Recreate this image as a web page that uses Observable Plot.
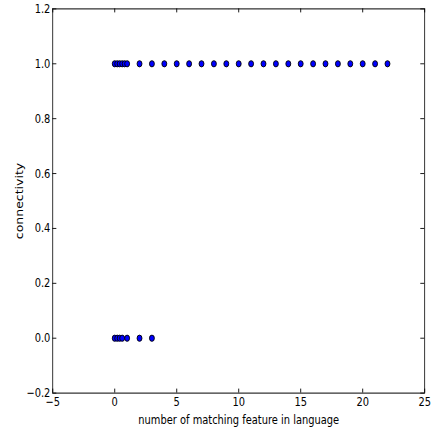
<!DOCTYPE html>
<html><head><meta charset="utf-8">
<script src="https://cdn.jsdelivr.net/npm/d3@7"></script>
<script src="https://cdn.jsdelivr.net/npm/@observablehq/plot@0.6"></script>
<style>body{margin:0;background:#fff;overflow:hidden}</style>
</head><body><div id="chart"></div>
<script>
// data
const connectedFeatures = [0, 0.2, 0.4, 0.6, 0.8, 1, 2, 3, 4, 5, 6, 7, 8, 9, 10, 11, 12, 13, 14, 15, 16, 17, 18, 19, 20, 21, 22];
const disconnectedFeatures = [0, 0.2, 0.4, 0.6, 1, 2, 3];
const connectedValue = 1.0;
const disconnectedValue = 0.0;
const xTicks = [-5, 0, 5, 10, 15, 20, 25];
const yTicks = [-0.2, 0, 0.2, 0.4, 0.6, 0.8, 1.0, 1.2];
const xLabel = "number of matching feature in language";
const yLabel = "connectivity";

const points = [
  ...connectedFeatures.map(x => ({x, y: connectedValue})),
  ...disconnectedFeatures.map(x => ({x, y: disconnectedValue}))
];

// layout: draw wide, then squeeze horizontally like the reference
const outW = 438, H = 437;
const sx = 0.79;
const W = Math.round(outW / sx);
const ml = 52.3 / sx, mr = 13.7 / sx, mt = 8.4, mb = 44.4;
const fw = W - ml - mr, fh = H - mt - mb;
const tk = 4;
const minus = s => String(s).replace("-", "\u2212");

const chart = Plot.plot({
  width: W, height: H,
  marginLeft: ml, marginRight: mr, marginTop: mt, marginBottom: mb,
  style: {fontFamily: "DejaVu Sans", fontSize: "12.5px", color: "black", background: "white"},
  x: {domain: [-5, 25]},
  y: {domain: [-0.2, 1.2]},
  marks: [
    Plot.frame({stroke: "black", strokeWidth: 1}),
    Plot.tickX(xTicks, {x: d => d, insetTop: fh - tk, stroke: "black"}),
    Plot.tickX(xTicks, {x: d => d, insetBottom: fh - tk, stroke: "black"}),
    Plot.tickY(yTicks, {y: d => d, insetRight: fw - tk / sx, stroke: "black"}),
    Plot.tickY(yTicks, {y: d => d, insetLeft: fw - tk / sx, stroke: "black"}),
    Plot.axisX(xTicks, {tickSize: 0, tickPadding: 4, tickFormat: d => minus(d), label: null}),
    Plot.axisY(yTicks, {tickSize: 0, tickPadding: 3, tickFormat: d => minus(d.toFixed(1)), label: null}),
    Plot.dot(points, {x: "x", y: "y", r: 3.1, fill: "#0000ff", stroke: "black", strokeWidth: 1}),
    Plot.text([xLabel], {text: d => d, frameAnchor: "bottom", dy: 22, lineAnchor: "top", textAnchor: "middle", fill: "black"}),
    Plot.text([yLabel], {text: d => d, frameAnchor: "left", dx: 19 / sx - ml, rotate: -90, lineAnchor: "middle", textAnchor: "middle", fill: "black"})
  ]
});
chart.setAttribute("width", outW);
chart.setAttribute("height", H);
chart.setAttribute("preserveAspectRatio", "none");
chart.style.width = outW + "px";
chart.style.height = H + "px";
chart.style.maxWidth = "none";
document.getElementById("chart").append(chart);
</script>
</body></html>
